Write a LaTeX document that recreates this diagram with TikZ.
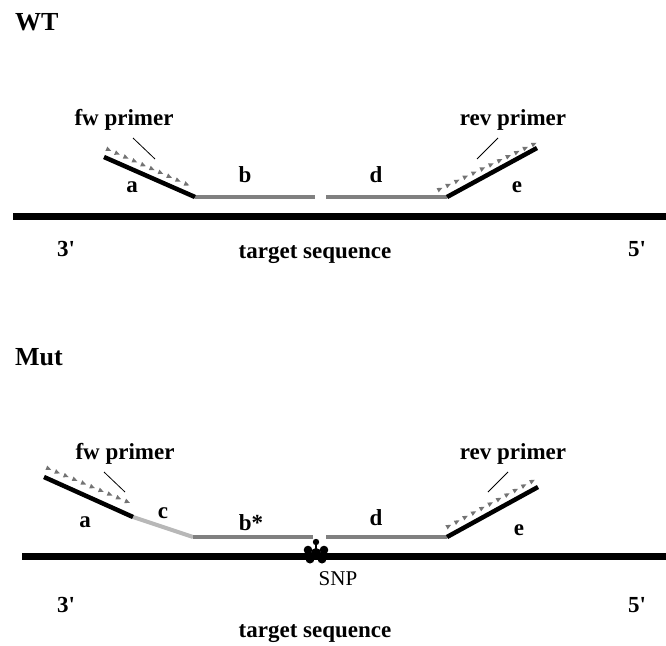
\documentclass[tikz,border=0pt]{standalone}
\usepackage{fontspec}
\setmainfont{Liberation Serif}
\usetikzlibrary{decorations.markings,calc}
\begin{document}
\begin{tikzpicture}[x=1pt,y=-1pt,
  lbl/.style={font=\fontsize{23}{25}\selectfont\bfseries, inner sep=0pt, anchor=base},
  ttl/.style={font=\fontsize{26}{28}\selectfont\bfseries, inner sep=0pt, anchor=base west},
  snplbl/.style={font=\fontsize{21}{23}\selectfont, inner sep=0pt, anchor=base},
  strand/.style={line width=4.5pt, black},
  target/.style={line width=7pt, black},
  probe/.style={line width=4pt, black!50},
  lightprobe/.style={line width=4pt, black!28},
  leader/.style={line width=0.8pt, black},
  primer/.style={postaction={decorate}, decoration={markings,
     mark=between positions 0.02 and 1 step 9.5pt with {\fill[black!55] (-2.6,-2.4)--(2.6,0)--(-2.6,2.4)--cycle;}}}
]
\useasboundingbox (0,0) rectangle (666,645);

% ---------------- WT ----------------
\node[ttl] (wt) at (15,30) {WT};

\coordinate (wtL) at (13,216);
\coordinate (wtR) at (666,216);
\draw[target] (wtL) -- (wtR);

\coordinate (wA1) at (104,157);
\coordinate (wA2) at (195,197);
\coordinate (wB2) at (315,197);
\coordinate (wD1) at (326,197);
\coordinate (wD2) at (447,197);
\coordinate (wE2) at (537,148);
\draw[probe] (wA2) -- (wB2);
\draw[probe] (wD1) -- (wD2);
\draw[strand] (wA1) -- (wA2);
\draw[strand] (wD2) -- (wE2);

\coordinate (wP1) at (107,149);
\coordinate (wP2) at (195,188);
\path[primer] (wP1) -- (wP2);
\coordinate (wR1) at (438,190);
\coordinate (wR2) at (536,143);
\path[primer] (wR1) -- (wR2);

\coordinate (wl1a) at (133,138);
\coordinate (wl1b) at (155,159);
\draw[leader] (wl1a) -- (wl1b);
\coordinate (wl2a) at (498,138);
\coordinate (wl2b) at (477,159);
\draw[leader] (wl2a) -- (wl2b);

\node[lbl] (wfw) at (124,125) {fw primer};
\node[lbl] (wrev) at (513,125) {rev primer};
\node[lbl] (wa) at (132,192) {a};
\node[lbl] (wb) at (245,182) {b};
\node[lbl] (wd) at (376,182) {d};
\node[lbl] (we) at (517,192) {e};
\node[lbl] (w3) at (66,256) {3\textquotesingle};
\node[lbl] (wts) at (315,258) {target sequence};
\node[lbl] (w5) at (637,256) {5\textquotesingle};

% ---------------- Mut ----------------
\node[ttl] (mut) at (15,365) {Mut};

\coordinate (mL) at (22,556);
\coordinate (mR) at (666,556);
\draw[target] (mL) -- (mR);

\coordinate (mA1) at (44,477);
\coordinate (mA2) at (133,517);
\coordinate (mC2) at (193,537);
\coordinate (mB2) at (313,537);
\coordinate (mD1) at (326,537);
\coordinate (mD2) at (447,537);
\coordinate (mE2) at (538,487);
\draw[lightprobe] (mA2) -- (mC2);
\draw[probe] (mC2) -- (mB2);
\draw[probe] (mD1) -- (mD2);
\draw[strand] (mA1) -- (mA2);
\draw[strand] (mD2) -- (mE2);

\coordinate (mP1) at (47,468);
\coordinate (mP2) at (135,505);
\path[primer] (mP1) -- (mP2);
\coordinate (mR1) at (447,527);
\coordinate (mR2) at (538,478);
\path[primer] (mR1) -- (mR2);

\coordinate (ml1a) at (104,472);
\coordinate (ml1b) at (125,492);
\draw[leader] (ml1a) -- (ml1b);
\coordinate (ml2a) at (508,472);
\coordinate (ml2b) at (488,492);
\draw[leader] (ml2a) -- (ml2b);

% SNP mark
\coordinate (snp) at (316,553);
\fill (snp) circle (5);
\fill ($(snp)+(0,-11)$) circle (3.2);
\draw[line width=2pt] (snp) -- ++(0,-10);
\fill ($(snp)+(-8,-3)$) circle (4.3);
\fill ($(snp)+(8,-3)$) circle (4.3);
\fill ($(snp)+(-6,6)$) circle (4.5);
\fill ($(snp)+(6,6)$) circle (4.5);

\node[lbl] (mfw) at (125,459) {fw primer};
\node[lbl] (mrev) at (513,459) {rev primer};
\node[lbl] (ma) at (85,527) {a};
\node[lbl] (mc) at (163,518) {c};
\node[lbl] (mb) at (251,530) {b*};
\node[lbl] (md) at (376,525) {d};
\node[lbl] (me) at (519,535) {e};
\node[snplbl] (snpl) at (338,585) {SNP};
\node[lbl] (m3) at (66,612) {3\textquotesingle};
\node[lbl] (mts) at (315,637) {target sequence};
\node[lbl] (m5) at (637,612) {5\textquotesingle};
\end{tikzpicture}
\end{document}
